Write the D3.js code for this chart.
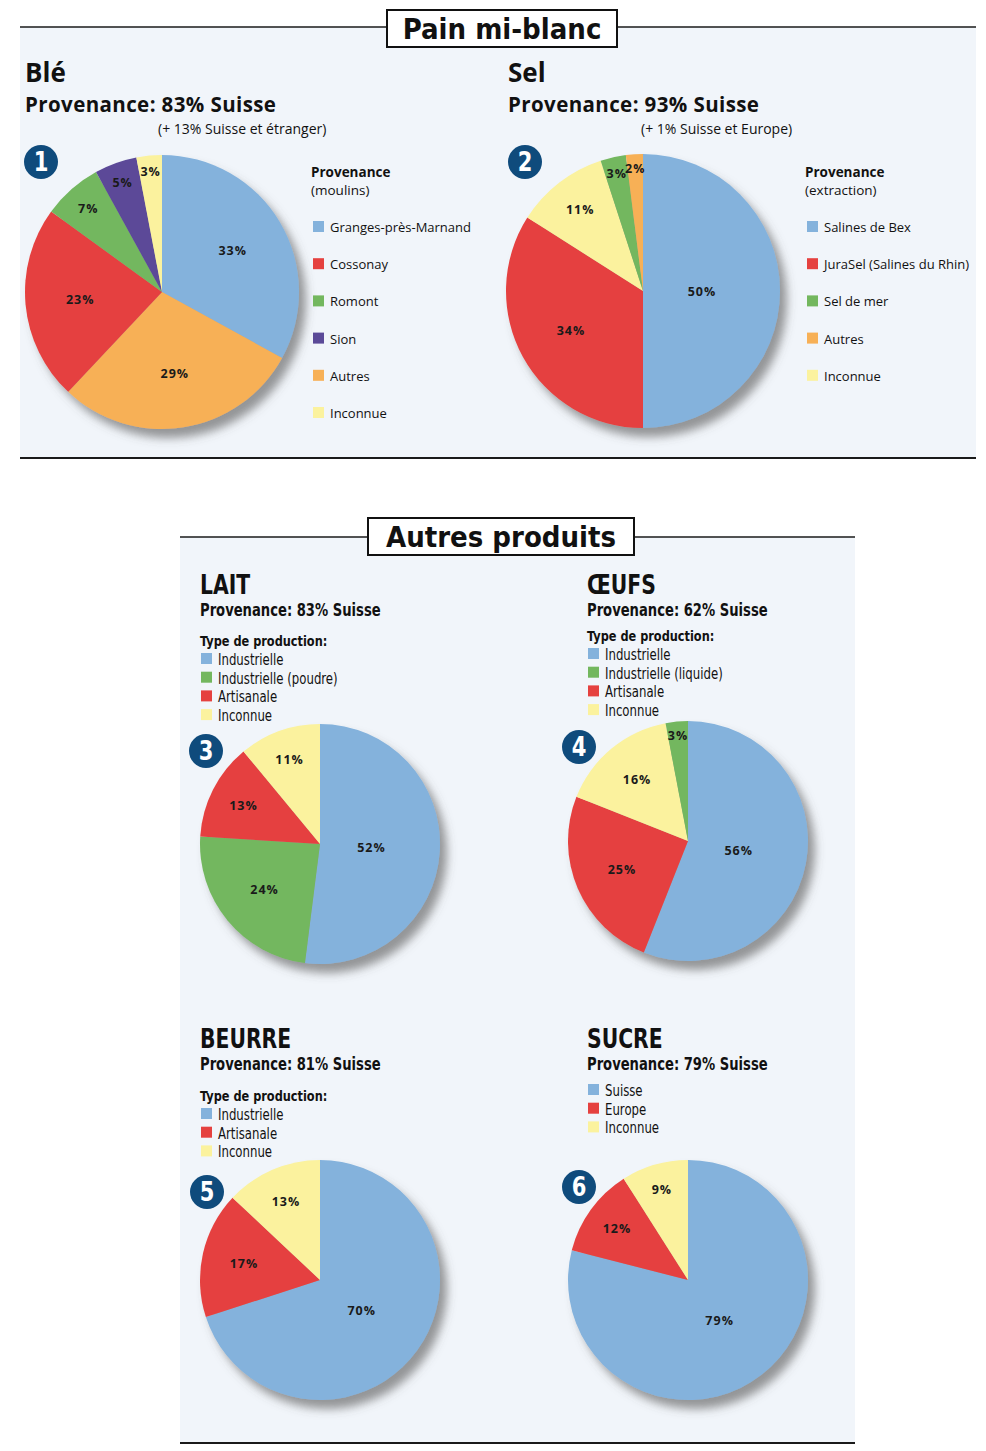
<!DOCTYPE html>
<html lang="fr">
<head>
<meta charset="utf-8">
<title>Pain mi-blanc - provenance des ingrédients</title>
<script src="https://cdn.jsdelivr.net/npm/d3@7"></script>
<style>
  body { margin: 0; background: #fff; }
  svg { display: block; }
</style>
</head>
<body>
<script>
// ---- données ----
var bleLegend = ["Granges-près-Marnand", "Cossonay", "Romont", "Sion", "Autres", "Inconnue"];
var bleSlices = ["Granges-près-Marnand", "Autres", "Cossonay", "Romont", "Sion", "Inconnue"];
var bleValues = [33, 29, 23, 7, 5, 3];

var selLegend = ["Salines de Bex", "JuraSel (Salines du Rhin)", "Sel de mer", "Autres", "Inconnue"];
var selSlices = ["Salines de Bex", "JuraSel (Salines du Rhin)", "Inconnue", "Sel de mer", "Autres"];
var selValues = [50, 34, 11, 3, 2];

var laitLegend = ["Industrielle", "Industrielle (poudre)", "Artisanale", "Inconnue"];
var laitSlices = ["Industrielle", "Industrielle (poudre)", "Artisanale", "Inconnue"];
var laitValues = [52, 24, 13, 11];

var oeufsLegend = ["Industrielle", "Industrielle (liquide)", "Artisanale", "Inconnue"];
var oeufsSlices = ["Industrielle", "Artisanale", "Inconnue", "Industrielle (liquide)"];
var oeufsValues = [56, 25, 16, 3];

var beurreLegend = ["Industrielle", "Artisanale", "Inconnue"];
var beurreValues = [70, 17, 13];

var sucreLegend = ["Suisse", "Europe", "Inconnue"];
var sucreValues = [79, 12, 9];

// ---- style ----
var W = 986, H = 1451;
var BLUE = "#84b2dc", RED = "#e5413f", GREEN = "#73b75e", PURPLE = "#5b4a98",
    ORANGE = "#f7b056", YELLOW = "#fbf29e", BADGE = "#0f4b7c", PANEL = "#f1f5fa";
var WIDE = "'Open Sans', 'DejaVu Sans', sans-serif";
var NARROW = "'Liberation Sans Narrow', 'DejaVu Sans Condensed', sans-serif";
var SQUEEZE = 0.87;  // lower block uses a condensed look

var svg = d3.select("body").append("svg")
  .attr("width", W)
  .attr("height", H);

//// shadow under the pies
var f = svg.append("defs").append("filter")
  .attr("id", "shadow")
  .attr("x", "-20%").attr("y", "-20%")
  .attr("width", "150%").attr("height", "150%");
f.append("feDropShadow")
  .attr("dx", 7).attr("dy", 9)
  .attr("stdDeviation", 5)
  .attr("flood-color", "#555")
  .attr("flood-opacity", 0.6);

//// panels
function panel(x1, x2, y1, y2, title, boxX, boxW, boxY, boxH) {
  svg.append("rect")
    .attr("x", x1).attr("y", y1)
    .attr("width", x2 - x1).attr("height", y2 - y1)
    .attr("fill", PANEL);
  svg.append("line")
    .attr("x1", x1).attr("x2", x2).attr("y1", y1).attr("y2", y1)
    .attr("stroke", "#1a1a1a").attr("stroke-width", 1.5);
  svg.append("line")
    .attr("x1", x1).attr("x2", x2).attr("y1", y2).attr("y2", y2)
    .attr("stroke", "#1a1a1a").attr("stroke-width", 2);
  svg.append("rect")
    .attr("x", boxX).attr("y", boxY)
    .attr("width", boxW).attr("height", boxH)
    .attr("fill", "#fff")
    .attr("stroke", "#111").attr("stroke-width", 2);
  svg.append("text")
    .text(title)
    .attr("x", boxX + boxW / 2)
    .attr("y", boxY + boxH / 2 + 10)
    .attr("text-anchor", "middle")
    .attr("font-family", NARROW)
    .attr("font-weight", "bold")
    .attr("font-size", "29px")
    .attr("fill", "#111");
}

panel(20, 976, 27, 458, "Pain mi-blanc", 387, 230, 10, 37);
panel(180, 855, 537, 1443, "Autres produits", 368, 266, 518, 37);

//// text helpers
function txt(s, x, y, size, weight, family) {
  return svg.append("text")
    .text(s)
    .attr("x", x).attr("y", y)
    .attr("font-family", family)
    .attr("font-size", size + "px")
    .attr("font-weight", weight)
    .attr("fill", "#111");
}

function ntxt(s, x, y, size, weight) {
  return svg.append("text")
    .text(s)
    .attr("transform", "translate(" + x + "," + y + ") scale(" + SQUEEZE + ",1)")
    .attr("font-family", NARROW)
    .attr("font-size", size + "px")
    .attr("font-weight", weight)
    .attr("fill", "#111");
}

//// badge with number
function badge(n, x, y) {
  svg.append("circle")
    .attr("cx", x).attr("cy", y).attr("r", 17)
    .attr("fill", BADGE);
  svg.append("text")
    .text(n)
    .attr("transform", "translate(" + x + "," + (y + 9) + ") scale(0.9,1)")
    .attr("text-anchor", "middle")
    .attr("font-family", NARROW)
    .attr("font-weight", "bold")
    .attr("font-size", "26px")
    .attr("fill", "#fff");
}

// labels of thin slices sit closer to the rim
function labelFrac(v) {
  if (v >= 45) return 0.43;
  return 0.6 + (20 - Math.min(v, 20)) / 20 * 0.33;
}

//// pie
function drawPie(cx, cy, r, slices, values, legend, colors) {
  var color = d3.scaleOrdinal().domain(legend).range(colors);
  var data = slices.map(function(s, i) { return { k: s, v: values[i] }; });
  var arcs = d3.pie().sort(null).value(function(d) { return d.v; })(data);
  var arc = d3.arc().innerRadius(0).outerRadius(r);

  var g = svg.append("g").attr("transform", "translate(" + cx + "," + cy + ")");
  g.append("g")
    .attr("filter", "url(#shadow)")
    .selectAll("path")
    .data(arcs)
    .enter()
    .append("path")
    .attr("d", arc)
    .attr("fill", function(d) { return color(d.data.k); });

  g.selectAll("text")
    .data(arcs)
    .enter()
    .append("text")
    .text(function(d) { return d.data.v + "%"; })
    .attr("x", function(d) {
      var a = (d.startAngle + d.endAngle) / 2;
      return Math.sin(a) * r * labelFrac(d.data.v);
    })
    .attr("y", function(d) {
      var a = (d.startAngle + d.endAngle) / 2;
      return -Math.cos(a) * r * labelFrac(d.data.v);
    })
    .attr("dy", "0.36em")
    .attr("text-anchor", "middle")
    .attr("font-family", WIDE)
    .attr("font-weight", "bold")
    .attr("font-size", "12.5px")
    .attr("letter-spacing", "1px")
    .attr("fill", "#1a1a1a");
}

//// legends
function legendTop(x, y, title, sub, legend, colors) {
  txt(title, x, y, 13.5, "bold", WIDE);
  txt(sub, x, y + 18, 13.5, "normal", WIDE);
  legend.forEach(function(name, i) {
    var yy = y + 50 + i * 37.2;
    svg.append("rect")
      .attr("x", x + 2).attr("y", yy - 6)
      .attr("width", 11).attr("height", 11)
      .attr("fill", colors[i]);
    txt(name, x + 19, yy + 5, 13, "normal", WIDE);
  });
}

function legendLow(x, y, title, legend, colors) {
  var y0 = y;
  if (title) {
    ntxt(title, x, y, 14.5, "bold");
    y0 = y + 19;
  }
  legend.forEach(function(name, i) {
    var yy = y0 + i * 18.7;
    svg.append("rect")
      .attr("x", x + 1).attr("y", yy - 12)
      .attr("width", 11).attr("height", 11)
      .attr("fill", colors[i]);
    ntxt(name, x + 18, yy, 15, "normal");
  });
}

//// Pain mi-blanc : Blé
txt("Blé", 25, 82, 26, "bold", WIDE);
txt("Provenance: 83% Suisse", 25, 112, 20.5, "bold", WIDE).attr("letter-spacing", "0.4px");
txt("(+ 13% Suisse et étranger)", 158, 133.5, 14, "normal", WIDE);
var bleColors = [BLUE, RED, GREEN, PURPLE, ORANGE, YELLOW];
drawPie(162, 292, 137, bleSlices, bleValues, bleLegend, bleColors);
badge("1", 41, 162);
legendTop(311, 177, "Provenance", "(moulins)", bleLegend, bleColors);

//// Pain mi-blanc : Sel
txt("Sel", 508, 82, 26, "bold", WIDE);
txt("Provenance: 93% Suisse", 508, 112, 20.5, "bold", WIDE).attr("letter-spacing", "0.4px");
txt("(+ 1% Suisse et Europe)", 641, 133.5, 14, "normal", WIDE);
var selColors = [BLUE, RED, GREEN, ORANGE, YELLOW];
drawPie(643, 291, 137, selSlices, selValues, selLegend, selColors);
badge("2", 525, 162);
legendTop(805, 177, "Provenance", "(extraction)", selLegend, selColors);

//// Autres produits
var laitColors = [BLUE, GREEN, RED, YELLOW];
ntxt("LAIT", 200, 594, 26, "bold");
ntxt("Provenance: 83% Suisse", 200, 616, 16.8, "bold");
legendLow(200, 646, "Type de production:", laitLegend, laitColors);
drawPie(320, 844, 120, laitSlices, laitValues, laitLegend, laitColors);
badge("3", 206, 751);

var oeufsColors = [BLUE, GREEN, RED, YELLOW];
ntxt("ŒUFS", 587, 594, 26, "bold");
ntxt("Provenance: 62% Suisse", 587, 616, 16.8, "bold");
legendLow(587, 641, "Type de production:", oeufsLegend, oeufsColors);
drawPie(688, 841, 120, oeufsSlices, oeufsValues, oeufsLegend, oeufsColors);
badge("4", 579, 747);

var beurreColors = [BLUE, RED, YELLOW];
ntxt("BEURRE", 200, 1048, 26, "bold");
ntxt("Provenance: 81% Suisse", 200, 1070, 16.8, "bold");
legendLow(200, 1101, "Type de production:", beurreLegend, beurreColors);
drawPie(320, 1280, 120, beurreLegend, beurreValues, beurreLegend, beurreColors);
badge("5", 207, 1192);

var sucreColors = [BLUE, RED, YELLOW];
ntxt("SUCRE", 587, 1048, 26, "bold");
ntxt("Provenance: 79% Suisse", 587, 1070, 16.8, "bold");
legendLow(587, 1096, null, sucreLegend, sucreColors);
drawPie(688, 1280, 120, sucreLegend, sucreValues, sucreLegend, sucreColors);
badge("6", 579, 1187);
</script>
</body>
</html>
